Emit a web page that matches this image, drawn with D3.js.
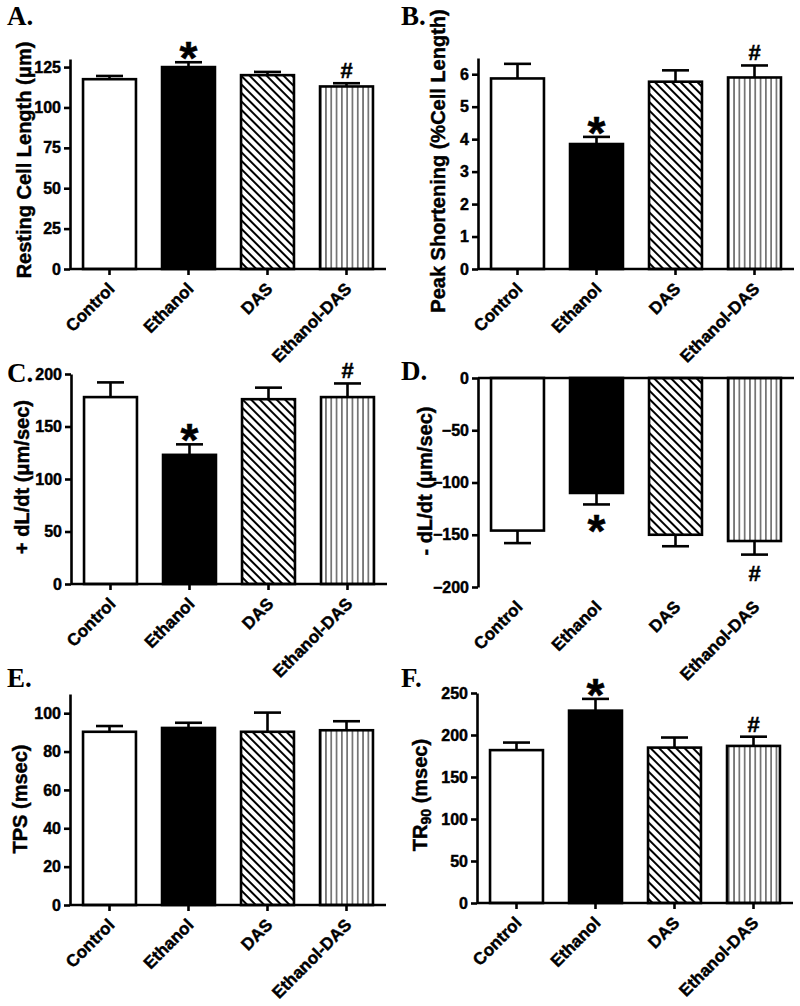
<!DOCTYPE html>
<html><head><meta charset="utf-8">
<script src="https://cdn.jsdelivr.net/npm/d3@7"></script>
<style>body{margin:0;background:#fff} svg{display:block}</style>
</head><body>
<script>
// ---------- data ----------
const categories = ["Control", "Ethanol", "DAS", "Ethanol-DAS"];

const restingLength     = [117.5, 125, 120, 113];
const restingLengthSem  = [2, 3, 2, 2];
const peakShortening    = [5.87, 3.85, 5.77, 5.9];
const peakShorteningSem = [0.45, 0.22, 0.35, 0.37];
const plusDLdt          = [178, 123, 176, 178];
const plusDLdtSem       = [14, 10, 11, 13];
const minusDLdt         = [-146, -110, -150, -156];
const minusDLdtSem      = [12, 11, 11, 13];
const tps               = [90.3, 92.3, 90.3, 91.1];
const tpsSem            = [3, 2.7, 10, 4.7];
const tr90              = [182, 229, 185, 187];
const tr90Sem           = [9, 14, 12, 11];

const marksA = ["", "*", "", "#"];
const marksB = ["", "*", "", "#"];
const marksC = ["", "*", "", "#"];
const marksD = ["", "*", "", "#"];
const marksE = ["", "", "", ""];
const marksF = ["", "*", "", "#"];

const ticksA = [0, 25, 50, 75, 100, 125];
const ticksB = [0, 1, 2, 3, 4, 5, 6];
const ticksC = [0, 50, 100, 150, 200];
const ticksD = [0, -50, -100, -150, -200];
const ticksE = [0, 20, 40, 60, 80, 100];
const ticksF = [0, 50, 100, 150, 200, 250];

const domainA = [0, 130];
const domainB = [0, 6.5];
const domainC = [0, 200];
const domainD = [-200, 0];
const domainE = [0, 110];
const domainF = [0, 250];

const fills = ["white", "black", "url(#diag)", "url(#vert)"];

// ---------- layout ----------
const panels = [
  {letter: "A.", values: restingLength, sem: restingLengthSem, marks: marksA, ticks: ticksA, domain: domainA,
   title: ["Resting Cell Length (μm)"], ax: 70, yb: 269, yt: 59, lx: 7, ly: 25, tx: 24, ty: 160},
  {letter: "B.", values: peakShortening, sem: peakShorteningSem, marks: marksB, ticks: ticksB, domain: domainB,
   title: ["Peak Shortening (%Cell Length)"], ax: 478, yb: 269, yt: 58, lx: 401, ly: 25, tx: 438, ty: 161},
  {letter: "C.", values: plusDLdt, sem: plusDLdtSem, marks: marksC, ticks: ticksC, domain: domainC,
   title: ["+ dL/dt (μm/sec)"], ax: 71, yb: 584, yt: 374, lx: 7, ly: 382, tx: 22, ty: 477},
  {letter: "D.", values: minusDLdt, sem: minusDLdtSem, marks: marksD, ticks: ticksD, domain: domainD,
   title: ["- dL/dt (μm/sec)"], ax: 478, yb: 587, yt: 378, lx: 401, ly: 380, tx: 425, ty: 481},
  {letter: "E.", values: tps, sem: tpsSem, marks: marksE, ticks: ticksE, domain: domainE,
   title: ["TPS (msec)"], ax: 70, yb: 905, yt: 694, lx: 7, ly: 687, tx: 20, ty: 799},
  {letter: "F.", values: tr90, sem: tr90Sem, marks: marksF, ticks: ticksF, domain: domainF,
   title: ["TR", "90", " (msec)"], ax: 477, yb: 903, yt: 693, lx: 401, ly: 687, tx: 420, ty: 795}
];

const svg = d3.select("body").append("svg").attr("width", 800).attr("height", 1006);
const defs = svg.append("defs");
const pd = defs.append("pattern").attr("id", "diag").attr("patternUnits", "userSpaceOnUse")
  .attr("width", 6).attr("height", 6).attr("patternTransform", "rotate(-45)");
pd.append("rect").attr("width", 6).attr("height", 6).attr("fill", "white");
pd.append("line").attr("x1", 3).attr("x2", 3).attr("y1", -1).attr("y2", 7).attr("stroke", "black").attr("stroke-width", 2);
const pv = defs.append("pattern").attr("id", "vert").attr("patternUnits", "userSpaceOnUse")
  .attr("width", 5.3).attr("height", 10);
pv.append("rect").attr("width", 5.3).attr("height", 10).attr("fill", "white");
pv.append("line").attr("x1", 2.65).attr("x2", 2.65).attr("y1", 0).attr("y2", 10).attr("stroke", "#222").attr("stroke-width", 1.1);

const SANS = "'Liberation Sans', Arial, sans-serif";
const SERIF = "'Liberation Serif', 'Times New Roman', serif";

function heavy(sel, size) {
  return sel.attr("font-family", SANS).attr("font-weight", "bold").attr("font-size", size)
    .attr("fill", "black").attr("stroke", "black").attr("stroke-width", 0.45);
}

panels.forEach(p => {
  const g = svg.append("g");
  const x = d3.scaleBand().domain(categories).range([p.ax, p.ax + 316]).paddingInner(0.33).paddingOuter(0.165);
  const y = d3.scaleLinear().domain(p.domain).range([p.yb, p.yt]);
  const zeroY = y(0);
  const neg = p.domain[1] <= 0;
  const data = categories.map((c, i) => ({c, v: p.values[i], e: p.sem[i], m: p.marks[i], f: fills[i]}));

  // bars
  g.selectAll("rect.bar").data(data).join("rect")
    .attr("x", d => x(d.c)).attr("width", x.bandwidth())
    .attr("y", d => Math.min(y(d.v), zeroY)).attr("height", d => Math.abs(y(d.v) - zeroY))
    .attr("fill", d => d.f).attr("stroke", "black").attr("stroke-width", 2.6);

  // error bars
  const eb = g.selectAll("g.err").data(data).join("g");
  const cx = d => x(d.c) + x.bandwidth() / 2;
  const ey = d => neg ? y(d.v - d.e) : y(d.v + d.e);
  eb.append("line").attr("x1", cx).attr("x2", cx).attr("y1", d => y(d.v)).attr("y2", ey)
    .attr("stroke", "black").attr("stroke-width", 2.6);
  eb.append("line").attr("x1", d => cx(d) - 13.5).attr("x2", d => cx(d) + 13.5).attr("y1", ey).attr("y2", ey)
    .attr("stroke", "black").attr("stroke-width", 2.6);

  // significance marks
  data.filter(d => d.m).forEach(d => {
    const center = neg ? ey(d) + 18 : ey(d) - 13;
    if (d.m === "*") {
      heavy(g.append("text"), 46).attr("x", cx(d)).attr("y", center + 25).attr("text-anchor", "middle").text("*");
    } else {
      heavy(g.append("text"), 22).attr("x", cx(d)).attr("y", center + 8).attr("text-anchor", "middle").text("#");
    }
  });

  // y axis
  const yAxis = d3.axisLeft(y).tickValues(p.ticks).tickFormat(d3.format("d")).tickSize(6).tickPadding(3).tickSizeOuter(0);
  const ya = g.append("g").attr("transform", `translate(${p.ax},0)`).call(yAxis);
  ya.select(".domain").attr("stroke-width", 2.6);
  ya.selectAll(".tick line").attr("stroke-width", 2.6);
  heavy(ya.selectAll(".tick text"), 16);

  // x axis line
  g.append("line").attr("x1", p.ax).attr("x2", p.ax + 316).attr("y1", zeroY).attr("y2", zeroY)
    .attr("stroke", "black").attr("stroke-width", 2.6);
  if (!neg) {
    g.selectAll("line.xt").data(categories).join("line")
      .attr("x1", c => x(c) + x.bandwidth() / 2).attr("x2", c => x(c) + x.bandwidth() / 2)
      .attr("y1", zeroY).attr("y2", zeroY + 6).attr("stroke", "black").attr("stroke-width", 2.6);
  }
  const labY = neg ? p.yb : zeroY;
  heavy(g.selectAll("text.xl").data(categories).join("text"), 17)
    .attr("transform", c => `translate(${x(c) + x.bandwidth() / 2 + 6},${labY + 21}) rotate(-45)`)
    .attr("text-anchor", "end")
    .text(c => c);

  // y title
  const t = heavy(g.append("text"), 20).attr("transform", `translate(${p.tx},${p.ty}) rotate(-90)`)
    .attr("text-anchor", "middle").attr("dy", "0.35em");
  if (p.title.length === 1) t.text(p.title[0]);
  else {
    t.append("tspan").text(p.title[0]);
    t.append("tspan").attr("font-size", 14).attr("dy", 4).text(p.title[1]);
    t.append("tspan").attr("dy", -4).text(p.title[2]);
  }

  // panel letter
  g.append("text").attr("x", p.lx).attr("y", p.ly).attr("font-family", SERIF).attr("font-weight", "bold")
    .attr("font-size", 27).text(p.letter);
});
</script>
</body></html>
